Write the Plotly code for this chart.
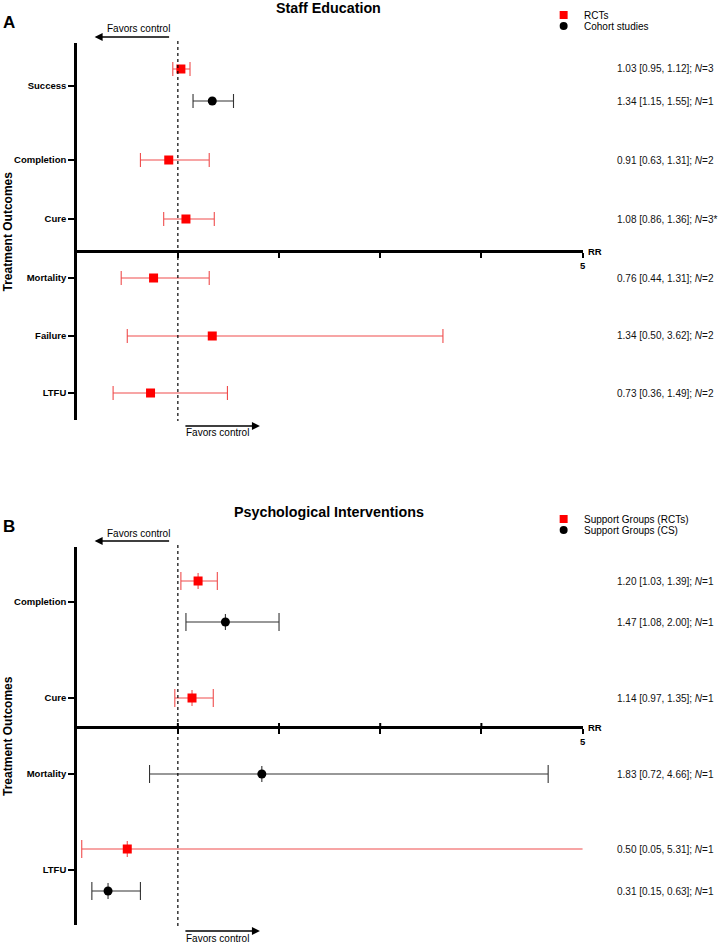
import plotly.graph_objects as go

W, H = 720, 944
FONT = "Arial, Liberation Sans, Helvetica, sans-serif"

# ---------------- data: panel A (Staff Education) ----------------
a_title = "Staff Education"
a_labels = ["Success", "Completion", "Cure", "Mortality", "Failure", "LTFU"]
a_rct_outcome = ["Success", "Completion", "Cure", "Mortality", "Failure", "LTFU"]
a_rct_rr = [1.03, 0.91, 1.08, 0.76, 1.34, 0.73]
a_rct_lo = [0.95, 0.63, 0.86, 0.44, 0.50, 0.36]
a_rct_hi = [1.12, 1.31, 1.36, 1.31, 3.62, 1.49]
a_rct_n = ["3", "2", "3*", "2", "2", "2"]
a_coh_outcome = ["Success"]
a_coh_rr = [1.34]
a_coh_lo = [1.15]
a_coh_hi = [1.55]
a_coh_n = ["1"]
a_legend = ["RCTs", "Cohort studies"]

# ---------------- data: panel B (Psychological Interventions) ----------------
b_title = "Psychological Interventions"
b_labels = ["Completion", "Cure", "Mortality", "LTFU"]
b_rct_outcome = ["Completion", "Cure", "LTFU"]
b_rct_rr = [1.20, 1.14, 0.50]
b_rct_lo = [1.03, 0.97, 0.05]
b_rct_hi = [1.39, 1.35, 5.31]
b_rct_n = ["1", "1", "1"]
b_cs_outcome = ["Completion", "Mortality", "LTFU"]
b_cs_rr = [1.47, 1.83, 0.31]
b_cs_lo = [1.08, 0.72, 0.15]
b_cs_hi = [2.00, 4.66, 0.63]
b_cs_n = ["1", "1", "1"]
b_legend = ["Support Groups (RCTs)", "Support Groups (CS)"]

x_ticks = [1, 2, 3, 4, 5]

# ---------------- layout geometry (pixels) ----------------
A_TOP, A_LEN = 43, 377
B_TOP, B_LEN = 547, 378
a_label_pos = {"Success": 43, "Completion": 117, "Cure": 176, "Mortality": 235, "Failure": 293, "LTFU": 350}
a_rct_pos = {"Success": 26, "Completion": 117, "Cure": 176, "Mortality": 235, "Failure": 293, "LTFU": 350}
a_coh_pos = {"Success": 58}
a_cross = 208
b_label_pos = {"Completion": 55, "Cure": 151, "Mortality": 227, "LTFU": 323}
b_rct_pos = {"Completion": 34, "Cure": 151, "LTFU": 302}
b_cs_pos = {"Completion": 75, "Mortality": 227, "LTFU": 344}
b_cross = 180

X0, X1 = 77, 585

RED = "#ff0000"
RED_BAR = "rgba(236,45,45,0.85)"
BLK = "#000000"
BLK_BAR = "#333333"


def px(x):
    return x / W


def py(y):
    return 1 - y / H


fig = go.Figure()


def add_series(outcomes, rr, lo, hi, pos, xa, ya, symbol, color, barcolor, capw, vtick):
    ys = [pos[o] for o in outcomes]
    err = dict(type="data", symmetric=False,
               array=[h - r for h, r in zip(hi, rr)],
               arrayminus=[r - l for r, l in zip(rr, lo)],
               color=barcolor, thickness=1.1, width=capw)
    kw = {}
    if vtick:
        kw["error_y"] = dict(type="constant", value=8, color=barcolor, thickness=1.1, width=0)
    fig.add_trace(go.Scatter(
        x=rr, y=ys, mode="markers", xaxis=xa, yaxis=ya, showlegend=False,
        marker=dict(symbol=symbol, size=9, color=color, line=dict(width=0)),
        error_x=err, hoverinfo="skip", **kw))


add_series(a_rct_outcome, a_rct_rr, a_rct_lo, a_rct_hi, a_rct_pos, "x", "y", "square", RED, RED_BAR, 7, False)
add_series(a_coh_outcome, a_coh_rr, a_coh_lo, a_coh_hi, a_coh_pos, "x", "y", "circle", BLK, BLK_BAR, 7, False)
add_series(b_rct_outcome, b_rct_rr, b_rct_lo, b_rct_hi, b_rct_pos, "x2", "y2", "square", RED, RED_BAR, 9, True)
add_series(b_cs_outcome, b_cs_rr, b_cs_lo, b_cs_hi, b_cs_pos, "x2", "y2", "circle", BLK, BLK_BAR, 9, True)


def xaxis_cfg(top, cross):
    return dict(domain=[px(X0), px(X1)], range=[0, 5], anchor="free", position=py(top + cross),
                showline=True, linewidth=2.5, linecolor="black", ticks="outside", ticklen=5,
                tickwidth=2, tickcolor="black", tickvals=x_ticks,
                ticktext=["" for _ in x_ticks[:-1]] + ["<b>%d</b>" % x_ticks[-1]],
                tickfont=dict(family=FONT, size=9.5, color="black"),
                showgrid=False, zeroline=False, fixedrange=True)


def yaxis_cfg(top, length, labels, lpos, xa):
    return dict(domain=[py(top + length), py(top)], range=[length, 0], anchor=xa,
                showline=True, linewidth=2.5, linecolor="black", ticks="outside", ticklen=6,
                tickwidth=2, tickcolor="black", tickvals=[lpos[l] for l in labels],
                ticktext=["<b>%s</b>" % l for l in labels],
                tickfont=dict(family=FONT, size=9.5, color="black"),
                showgrid=False, zeroline=False, fixedrange=True)


shapes = []
annotations = []


def panel_decor(top, length, cross, xa, title, letter, legend, rows, ticks_up):
    # reference line at RR = 1
    shapes.append(dict(type="line", xref=xa, yref="paper", x0=1, x1=1,
                       y0=py(top - 2), y1=py(top + length + 1),
                       line=dict(color="black", width=1.2, dash="dot")))
    if ticks_up:
        for t in x_ticks[:-1]:
            shapes.append(dict(type="line", xref=xa, yref="paper", x0=t, x1=t,
                               y0=py(top + cross), y1=py(top + cross - 4),
                               line=dict(color="black", width=2)))
    # titles
    annotations.append(dict(text="<b>%s</b>" % title, x=px(330), y=py(top - 35), xref="paper", yref="paper",
                            showarrow=False, xanchor="center", yanchor="middle",
                            font=dict(family=FONT, size=14.3, color="black")))
    annotations.append(dict(text="<b>%s</b>" % letter, x=px(9), y=py(top - 21), xref="paper", yref="paper",
                            showarrow=False, xanchor="center", yanchor="middle",
                            font=dict(family=FONT, size=17, color="black")))
    # favors control (top, pointing left)
    annotations.append(dict(text="Favors control", x=px(139), y=py(top - 14), xref="paper", yref="paper",
                            showarrow=False, xanchor="center", yanchor="middle",
                            font=dict(family=FONT, size=10, color="black")))
    annotations.append(dict(text="", x=px(95), y=py(top - 6), xref="paper", yref="paper",
                            showarrow=True, ax=76, ay=0, arrowhead=2, arrowsize=1, arrowwidth=1.6,
                            arrowcolor="black"))
    # favors control (bottom, pointing right)
    annotations.append(dict(text="", x=px(261), y=py(top + length + 6), xref="paper", yref="paper",
                            showarrow=True, ax=-76, ay=0, arrowhead=2, arrowsize=1, arrowwidth=1.6,
                            arrowcolor="black"))
    annotations.append(dict(text="Favors control", x=px(185), y=py(top + length + 13), xref="paper",
                            yref="paper", showarrow=False, xanchor="left", yanchor="middle",
                            font=dict(family=FONT, size=10, color="black")))
    # RR label
    annotations.append(dict(text="<b>RR</b>", x=px(588), y=py(top + cross), xref="paper", yref="paper",
                            showarrow=False, xanchor="left", yanchor="middle",
                            font=dict(family=FONT, size=9.5, color="black")))
    # y title
    annotations.append(dict(text="<b>Treatment Outcomes</b>", x=px(8), y=py(top + length / 2),
                            xref="paper", yref="paper", showarrow=False, textangle=-90,
                            xanchor="center", yanchor="middle",
                            font=dict(family=FONT, size=12, color="black")))
    # legend
    lx, ly0, ly1 = 566, top - 28, top - 17
    shapes.append(dict(type="rect", xref="paper", yref="paper", x0=px(lx - 4), x1=px(lx + 4),
                       y0=py(ly0 + 4), y1=py(ly0 - 4), fillcolor=RED, line=dict(width=0)))
    shapes.append(dict(type="circle", xref="paper", yref="paper", x0=px(lx - 4), x1=px(lx + 4),
                       y0=py(ly1 + 4), y1=py(ly1 - 4), fillcolor=BLK, line=dict(width=0)))
    for txt, yy in zip(legend, [ly0, ly1]):
        annotations.append(dict(text=txt, x=px(lx + 18), y=py(yy), xref="paper", yref="paper",
                                showarrow=False, xanchor="left", yanchor="middle",
                                font=dict(family=FONT, size=10, color="black")))
    # estimates text
    for (rr, lo, hi, n, yy) in rows:
        annotations.append(dict(text="%.2f [%.2f, %.2f]; <i>N</i>=%s" % (rr, lo, hi, n),
                                x=px(618), y=py(top + yy), xref="paper", yref="paper",
                                showarrow=False, xanchor="left", yanchor="middle",
                                font=dict(family=FONT, size=10, color="#111111")))


a_rows = [(r, l, h, n, a_rct_pos[o]) for o, r, l, h, n in zip(a_rct_outcome, a_rct_rr, a_rct_lo, a_rct_hi, a_rct_n)]
a_rows += [(r, l, h, n, a_coh_pos[o]) for o, r, l, h, n in zip(a_coh_outcome, a_coh_rr, a_coh_lo, a_coh_hi, a_coh_n)]
b_rows = [(r, l, h, n, b_rct_pos[o]) for o, r, l, h, n in zip(b_rct_outcome, b_rct_rr, b_rct_lo, b_rct_hi, b_rct_n)]
b_rows += [(r, l, h, n, b_cs_pos[o]) for o, r, l, h, n in zip(b_cs_outcome, b_cs_rr, b_cs_lo, b_cs_hi, b_cs_n)]

panel_decor(A_TOP, A_LEN, a_cross, "x", a_title, "A", a_legend, a_rows, False)
panel_decor(B_TOP, B_LEN, b_cross, "x2", b_title, "B", b_legend, b_rows, True)

fig.update_layout(
    width=W, height=H, autosize=False,
    margin=dict(l=0, r=0, t=0, b=0, pad=0),
    paper_bgcolor="white", plot_bgcolor="white",
    showlegend=False, hovermode=False,
    font=dict(family=FONT, color="black"),
    xaxis=xaxis_cfg(A_TOP, a_cross),
    yaxis=yaxis_cfg(A_TOP, A_LEN, a_labels, a_label_pos, "x"),
    xaxis2=xaxis_cfg(B_TOP, b_cross),
    yaxis2=yaxis_cfg(B_TOP, B_LEN, b_labels, b_label_pos, "x2"),
    shapes=shapes, annotations=annotations,
)

# remove the browser's default page margin so the 720x944 figure fills the window
fig.write_html("out.html",
               config={"displayModeBar": False, "staticPlot": True},
               post_script="document.body.style.margin='0';document.body.style.overflow='hidden';")
